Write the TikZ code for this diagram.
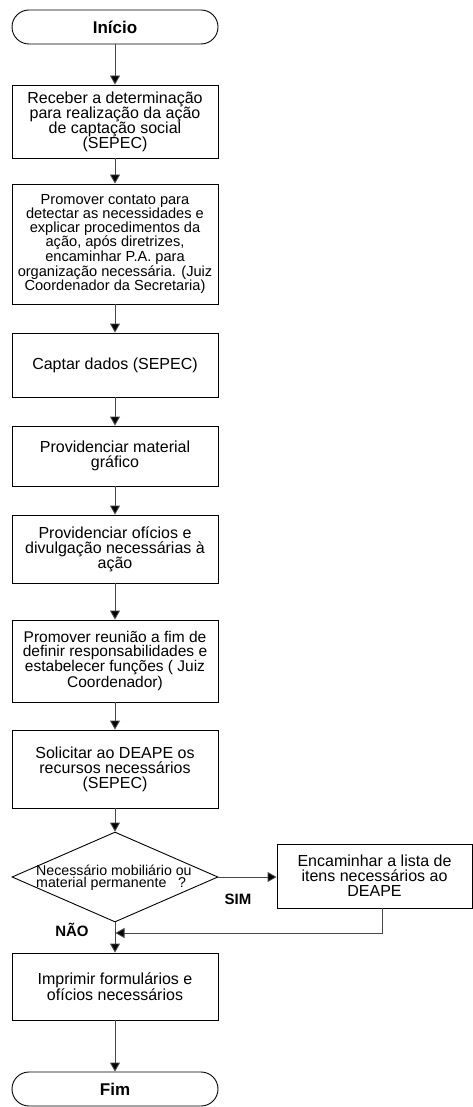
\documentclass[tikz,border=0pt]{standalone}
\usepackage{fontspec}
\setmainfont{Liberation Sans}
\usetikzlibrary{arrows.meta,shapes.geometric,calc}
\begin{document}
\begin{tikzpicture}[x=1pt,y=-1pt,
  box/.style={draw,line width=0.9pt,minimum width=206pt,inner sep=1pt,align=center,font=\fontsize{16}{15}\selectfont},
  smallbox/.style={box,font=\fontsize{14.6}{13.4}\selectfont},
  term/.style={draw,line width=0.9pt,rounded corners=17pt,minimum width=206pt,minimum height=34pt,font=\bfseries\fontsize{17}{17}\selectfont},
  arr/.style={draw=black!72,line width=0.9pt,-{Triangle[width=10pt,length=9pt,fill=black]}},
  lbl/.style={font=\bfseries\fontsize{15}{15}\selectfont}]
\useasboundingbox (0,0) rectangle (472,1107);
\node[term] (ini) at (115,27) {Início};
\node[box,minimum height=73pt] (b1) at (115,121.5) {Receber a determinação\\para realização da ação\\de captação social\\(SEPEC)};
\node[smallbox,minimum height=120pt] (b2) at (115,244) {Promover contato para\\detectar as necessidades e\\explicar procedimentos da\\ação, após diretrizes,\\encaminhar P.A. para\\organização necessária. (Juiz\\Coordenador da Secretaria)};
\node[box,minimum height=64pt] (b3) at (115,365) {Captar dados (SEPEC)};
\node[box,minimum height=60pt] (b4) at (115,456) {Providenciar material\\gráfico};
\node[box,minimum height=68pt] (b5) at (115,549) {Providenciar ofícios e\\divulgação necessárias à\\ação};
\node[box,minimum height=82pt,font=\fontsize{15.5}{13.6}\selectfont] (b6) at (115,661) {Promover reunião a fim de\\definir responsabilidades e\\estabelecer funções ( Juiz\\Coordenador)};
\node[box,minimum height=78pt] (b7) at (115,769) {Solicitar ao DEAPE os\\recursos necessários\\(SEPEC)};
\node[draw,line width=0.9pt,diamond,minimum width=206pt,minimum height=90pt,inner sep=0pt] (dec) at (115,877) {};
\node[anchor=west,align=left,inner sep=0pt,font=\fontsize{14.2}{12.2}\selectfont] (dtext) at (36,878) {Necessário mobiliário ou\\material permanente\ \ \ ?};
\node[box,minimum width=195pt,minimum height=64pt] (enc) at (374.5,876) {Encaminhar a lista de\\itens necessários ao\\DEAPE};
\node[box,minimum height=67pt] (b8) at (115,986.5) {Imprimir formulários e\\ofícios necessários};
\node[term] (fim) at (115,1089) {Fim};
\coordinate (m) at (115,933);
\node[lbl] (sim) at (238,899) {SIM};
\node[lbl] (nao) at (72,930) {NÃO};
\draw[arr] (ini) -- (b1);
\draw[arr] (b1) -- (b2);
\draw[arr] (b2) -- (b3);
\draw[arr] (b3) -- (b4);
\draw[arr] (b4) -- (b5);
\draw[arr] (b5) -- (b6);
\draw[arr] (b6) -- (b7);
\draw[arr] (b7) -- (dec);
\draw[arr] (dec.east) -- (enc.west |- dec.east);
\draw[arr] (dec.south) -- (b8.north);
\draw[arr] ($(enc.south)+(7.5,0)$) |- ($(m)+(0.5,0)$);
\draw[arr] (b8) -- (fim);
\end{tikzpicture}
\end{document}
